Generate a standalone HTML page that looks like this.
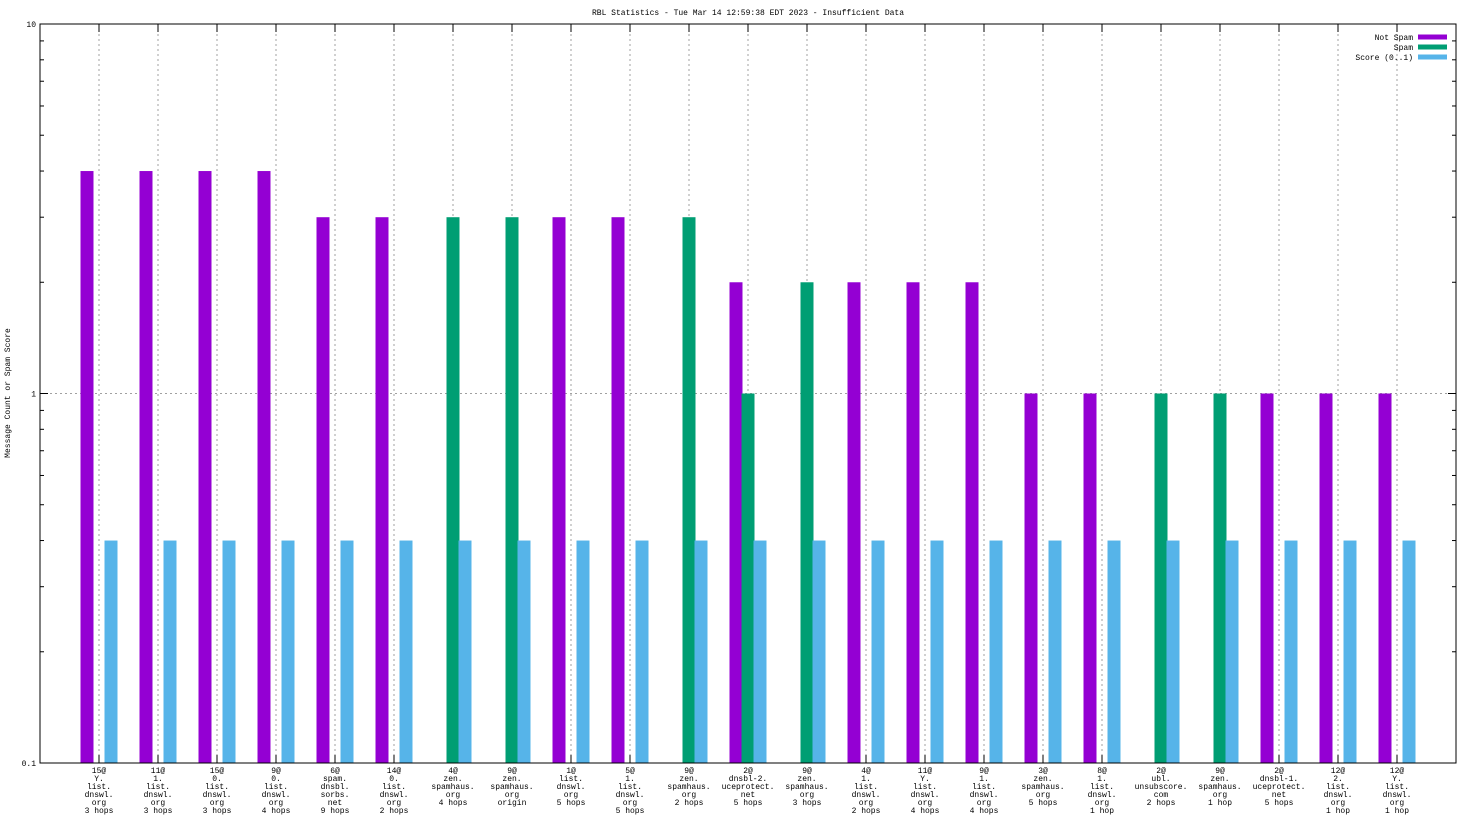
<!DOCTYPE html>
<html><head><meta charset="utf-8"><style>
body{margin:0;background:#fff}
svg{display:block;font-family:"Liberation Mono","DejaVu Sans Mono",monospace;font-size:8px}
</style></head><body>
<svg id="c" width="1472" height="828" xmlns="http://www.w3.org/2000/svg"></svg>
<script>
const categories=[
["15@","Y.","list.","dnswl.","org","3 hops"],["11@","1.","list.","dnswl.","org","3 hops"],["15@","0.","list.","dnswl.","org","3 hops"],["9@","0.","list.","dnswl.","org","4 hops"],["6@","spam.","dnsbl.","sorbs.","net","9 hops"],["14@","0.","list.","dnswl.","org","2 hops"],["4@","zen.","spamhaus.","org","4 hops"],["9@","zen.","spamhaus.","org","origin"],["1@","list.","dnswl.","org","5 hops"],["5@","1.","list.","dnswl.","org","5 hops"],["9@","zen.","spamhaus.","org","2 hops"],["2@","dnsbl-2.","uceprotect.","net","5 hops"],["9@","zen.","spamhaus.","org","3 hops"],["4@","1.","list.","dnswl.","org","2 hops"],["11@","Y.","list.","dnswl.","org","4 hops"],["9@","1.","list.","dnswl.","org","4 hops"],["3@","zen.","spamhaus.","org","5 hops"],["8@","1.","list.","dnswl.","org","1 hop"],["2@","ubl.","unsubscore.","com","2 hops"],["9@","zen.","spamhaus.","org","1 hop"],["2@","dnsbl-1.","uceprotect.","net","5 hops"],["12@","2.","list.","dnswl.","org","1 hop"],["12@","Y.","list.","dnswl.","org","1 hop"]];
const notSpam=[4,4,4,4,3,3,0,0,3,3,0,2,0,2,2,2,1,1,0,0,1,1,1];
const spam=[0,0,0,0,0,0,3,3,0,0,3,1,2,0,0,0,0,0,1,1,0,0,0];
const score=[0.4,0.4,0.4,0.4,0.4,0.4,0.4,0.4,0.4,0.4,0.4,0.4,0.4,0.4,0.4,0.4,0.4,0.4,0.4,0.4,0.4,0.4,0.4];
const yTicks=[0.1,1,10];
const yTickLabels=["0.1","1","10"];
const series=[{name:"Not Spam",data:notSpam,color:"#9400d3",off:-1},{name:"Spam",data:spam,color:"#009e73",off:0},{name:"Score (0..1)",data:score,color:"#56b4e9",off:1}];
const L=40,R=1456,T=24,B=763,yMin=0.1,yMax=10;
const svg=document.getElementById('c');const NS="http://www.w3.org/2000/svg";
function y(v){return B-(Math.log10(v)-Math.log10(yMin))/(Math.log10(yMax)-Math.log10(yMin))*(B-T);}
function x(i){return 99+i*59;}
function el(t,a,txt){const e=document.createElementNS(NS,t);for(const k in a)e.setAttribute(k,a[k]);if(txt!=null)e.textContent=txt;svg.appendChild(e);return e;}
let e;
e=el('text',{x:748,y:15,'text-anchor':'middle'},'RBL Statistics - Tue Mar 14 12:59:38 EDT 2023 - Insufficient Data');


e=el('text',{x:10,y:393,'text-anchor':'middle',transform:'rotate(-90 10 393)'},'Message Count or Spam Score');


// grid
categories.forEach((c,i)=>{
 e=el('line',{x1:x(i),x2:x(i),y1:T,y2:B,stroke:'#a0a0a0','stroke-dasharray':'2,3','stroke-width':1});
 
 
 el('line',{x1:x(i),x2:x(i),y1:B,y2:B-8,stroke:'#000'});
 el('line',{x1:x(i),x2:x(i),y1:T,y2:T+8,stroke:'#000'});
 c.forEach((s,j)=>{
  e=el('text',{x:x(i),y:773+j*8,'text-anchor':'middle'},s);
  
  
 });
});
e=el('line',{x1:L,x2:R,y1:y(1),y2:y(1),stroke:'#a0a0a0','stroke-dasharray':'2,3'});


yTicks.forEach((v,i)=>{
 el('line',{x1:L,x2:L+8,y1:y(v),y2:y(v),stroke:'#000'});
 el('line',{x1:R,x2:R-8,y1:y(v),y2:y(v),stroke:'#000'});
 e=el('text',{x:L-4,y:y(v)+3,'text-anchor':'end'},yTickLabels[i]);
 
 
 if(i<yTicks.length-1)for(let m=2;m<10;m++){const yy=y(v*m);el('line',{x1:L,x2:L+4,y1:yy,y2:yy,stroke:'#000'});el('line',{x1:R,x2:R-4,y1:yy,y2:yy,stroke:'#000'});}
});
// bars
series.forEach(s=>{
 s.data.forEach((v,i)=>{
  if(v<=0)return;
  const cx=x(i)+s.off*12;
  e=el('rect',{x:cx-6.5,y:y(v),width:13,height:B-y(v),fill:s.color});
  
  
 });
});
e=el('rect',{x:L,y:T,width:R-L,height:B-T,fill:'none',stroke:'#000'});


// legend
series.forEach((s,i)=>{
 const ly=37+i*10;
 e=el('text',{x:1413,y:ly+3,'text-anchor':'end'},s.name);
 
 
 el('rect',{x:1418,y:ly-2.5,width:29,height:5,fill:s.color});
});
</script>
</body></html>
